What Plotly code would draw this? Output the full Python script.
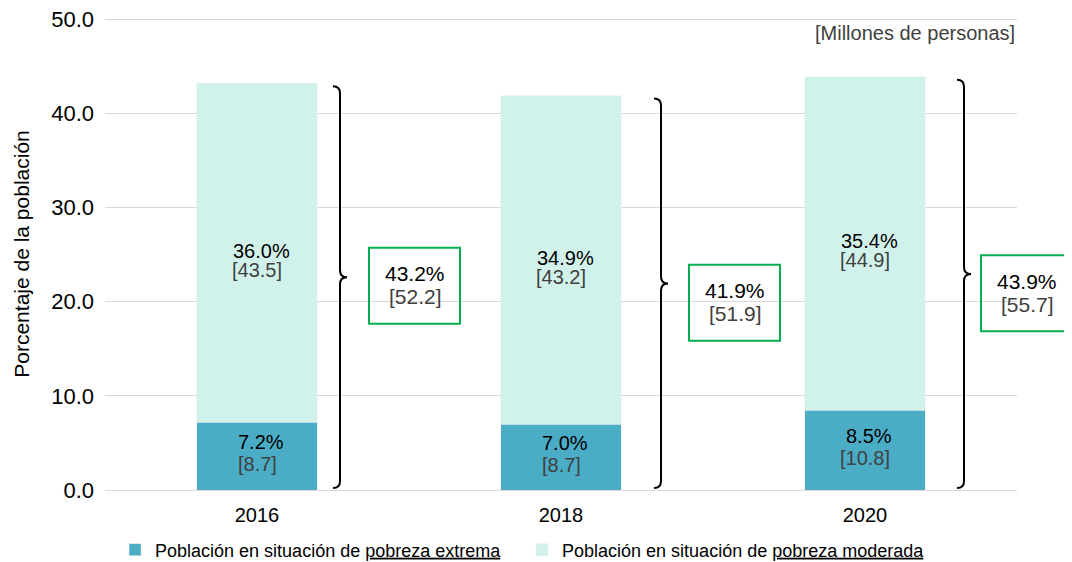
import plotly.graph_objects as go

# data (percent of population / millions of people)
years = ["2016", "2018", "2020"]
extreme_pct = [7.2, 7.0, 8.5]
moderate_pct = [36.0, 34.9, 35.4]
extreme_mill = [8.7, 8.7, 10.8]
moderate_mill = [43.5, 43.2, 44.9]
total_pct = [43.2, 41.9, 43.9]
total_mill = [52.2, 51.9, 55.7]

# colors
c_extreme = "#4BACC6"
c_moderate = "#D1F2EB"
c_box = "#00B050"
c_gray = "#404040"
FONT = "Liberation Sans, Arial, sans-serif"

# plot area in pixels (used to place braces and boxes)
PW, PH = 912, 472
XMIN, XMAX, YMAX = -0.5, 2.5, 50.15


def xp(xd, dpx=0):
    return (xd - XMIN) / (XMAX - XMIN) + dpx / PW


def yp(yd, dpx=0):
    return yd / YMAX + dpx / PH


xs = list(range(len(years)))

fig = go.Figure()
fig.add_trace(go.Bar(
    x=xs, y=extreme_pct, width=0.395, marker_color=c_extreme,
    name="Población en situación de <u>pobreza extrema</u>",
))
fig.add_trace(go.Bar(
    x=xs, y=moderate_pct, width=0.395, marker_color=c_moderate,
    name="Población en situación de <u>pobreza moderada</u>",
))

annotations = []
shapes = []

# labels inside bars
for i in xs:
    ce = extreme_pct[i] / 2
    cm = extreme_pct[i] + moderate_pct[i] / 2
    for yc, pct, mill, up, dn in [(ce, extreme_pct[i], extreme_mill[i], 14, -8),
                                  (cm, moderate_pct[i], moderate_mill[i], 2, -17)]:
        annotations.append(dict(x=i, y=yc, xref="x", yref="y", yshift=up, xshift=4,
                                text=f"{pct:.1f}%", showarrow=False,
                                font=dict(size=20, color="black", family=FONT)))
        annotations.append(dict(x=i, y=yc, xref="x", yref="y", yshift=dn,
                                text=f"[{mill:.1f}]", showarrow=False,
                                font=dict(size=20, color=c_gray, family=FONT)))

# braces and total boxes
brace_dx = [83, 100, 99]
box_dx = [158, 174, 162]
box_cy = [21.7, 19.9, 20.9]
for i in xs:
    bx = xp(i, brace_dx[i])
    top = yp(total_pct[i] - 0.3)
    bot = yp(0.2)
    mid = yp(total_pct[i] / 2 + 1)
    hx, hy = 7 / PW, 7 / PH
    path = (f"M {bx - hx},{top} Q {bx},{top} {bx},{top - hy} "
            f"L {bx},{mid + hy} Q {bx},{mid} {bx + hx},{mid} "
            f"Q {bx},{mid} {bx},{mid - hy} "
            f"L {bx},{bot + hy} Q {bx},{bot} {bx - hx},{bot}")
    shapes.append(dict(type="path", path=path, xref="paper", yref="paper",
                       line=dict(color="black", width=2)))

    cx = xp(i, box_dx[i])
    cy = yp(box_cy[i])
    shapes.append(dict(type="rect", xref="paper", yref="paper",
                       x0=cx - 46 / PW, x1=cx + 45 / PW,
                       y0=cy - 38 / PH, y1=cy + 38 / PH,
                       line=dict(color=c_box, width=2)))
    annotations.append(dict(x=cx, y=cy, xref="paper", yref="paper", yshift=12,
                            xanchor="center", yanchor="middle",
                            text=f"{total_pct[i]:.1f}%", showarrow=False,
                            font=dict(size=21, color="black", family=FONT)))
    annotations.append(dict(x=cx, y=cy, xref="paper", yref="paper", yshift=-11,
                            xanchor="center", yanchor="middle",
                            text=f"[{total_mill[i]:.1f}]", showarrow=False,
                            font=dict(size=21, color=c_gray, family=FONT)))

annotations.append(dict(x=1, y=yp(0, 457), xref="paper", yref="paper",
                        xanchor="right", yanchor="middle",
                        text="[Millones de personas]", showarrow=False,
                        font=dict(size=20, color=c_gray, family=FONT)))

# page body has an 8px margin, so the figure is 8px smaller and offset
fig.update_layout(
    barmode="stack",
    width=1064, height=554,
    margin=dict(l=97, r=55, t=10, b=72, autoexpand=False),
    plot_bgcolor="white", paper_bgcolor="white",
    font=dict(family=FONT, color="black"),
    showlegend=True,
    legend=dict(orientation="h", x=0.011, xanchor="left", y=-0.127, yanchor="middle",
                font=dict(size=18, family=FONT), traceorder="normal",
                entrywidth=362, entrywidthmode="pixels"),
    annotations=annotations,
    shapes=shapes,
    xaxis=dict(range=[XMIN, XMAX], tickvals=xs, ticktext=years, showgrid=False,
               showline=False, zeroline=False, tickfont=dict(size=20),
               ticklabelstandoff=11),
    yaxis=dict(range=[0, YMAX], tickvals=[0, 10, 20, 30, 40, 50], tickformat=".1f",
               showgrid=True, gridcolor="#D9D9D9", gridwidth=1, zeroline=True,
               zerolinecolor="#D9D9D9", zerolinewidth=1, showline=False,
               tickfont=dict(size=22), ticklabelstandoff=10, ticklabeloverflow="allow",
               title=dict(text="Porcentaje de la población", font=dict(size=21))),
)

fig.write_html("out.html")
